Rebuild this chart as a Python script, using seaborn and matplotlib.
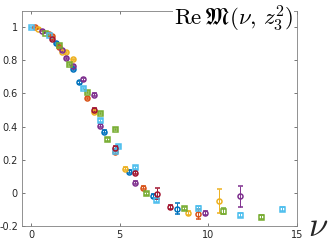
import numpy as np
import pandas as pd
import seaborn as sns
import matplotlib
matplotlib.use("Agg")
import matplotlib.pyplot as plt

# series (nu, Re M, error)
blue_nu = [1.39, 2.35, 2.73, 4.14, 5.50, 6.89, 8.25]
blue_m = [0.903, 0.745, 0.667, 0.370, 0.128, -0.018, -0.096]
blue_err = [0.005, 0.006, 0.007, 0.008, 0.008, 0.010, 0.032]

orange_nu = [0.20, 0.99, 1.19, 1.58, 3.14, 4.71, 6.29, 9.44]
orange_m = [1.000, 0.960, 0.945, 0.879, 0.573, 0.245, 0.032, -0.130]
orange_err = [0.002, 0.004, 0.005, 0.006, 0.008, 0.008, 0.010, 0.030]

yellow_nu = [0.40, 1.77, 1.96, 2.35, 3.54, 5.31, 8.85, 10.60]
yellow_m = [0.990, 0.853, 0.851, 0.805, 0.491, 0.146, -0.124, -0.050]
yellow_err = [0.003, 0.005, 0.005, 0.006, 0.008, 0.008, 0.012, 0.072]

purple_nu = [0.60, 1.77, 1.96, 2.35, 2.95, 3.54, 3.92, 5.89, 9.81, 11.79]
purple_m = [0.980, 0.860, 0.815, 0.765, 0.685, 0.593, 0.405, 0.062, -0.120, -0.020]
purple_err = [0.003, 0.005, 0.005, 0.006, 0.007, 0.008, 0.008, 0.010, 0.012, 0.064]

green_nu = [0.79, 1.58, 2.16, 3.14, 3.92, 4.31, 4.71, 6.50, 8.64, 10.81, 12.95]
green_m = [0.967, 0.893, 0.779, 0.609, 0.483, 0.324, 0.385, -0.002, -0.094, -0.112, -0.146]
green_err = [0.003, 0.005, 0.006, 0.007, 0.008, 0.008, 0.008, 0.010, 0.010, 0.018, 0.010]

lblue_nu = [0.00, 1.00, 2.95, 3.92, 4.92, 4.71, 5.89, 7.06, 9.44, 11.79, 14.14]
lblue_m = [1.000, 0.950, 0.635, 0.438, 0.282, 0.255, 0.154, -0.046, -0.090, -0.134, -0.100]
lblue_err = [0.002, 0.004, 0.007, 0.008, 0.008, 0.008, 0.009, 0.010, 0.010, 0.010, 0.012]

red_nu = [1.17, 3.54, 4.71, 5.89, 7.08, 7.83]
red_m = [0.930, 0.503, 0.273, 0.120, -0.006, -0.086]
red_err = [0.005, 0.008, 0.008, 0.009, 0.034, 0.012]

series_names = ["blue", "orange", "yellow", "purple", "green", "lightblue", "darkred"]
series_colors = ["#0072BD", "#D95319", "#EDB120", "#7E2F8E", "#77AC30", "#4DBEEE", "#A2142F"]
series_markers = ["o", "o", "o", "o", "s", "s", "o"]

frames = []
for name, nu, m, e in zip(series_names,
                          [blue_nu, orange_nu, yellow_nu, purple_nu, green_nu, lblue_nu, red_nu],
                          [blue_m, orange_m, yellow_m, purple_m, green_m, lblue_m, red_m],
                          [blue_err, orange_err, yellow_err, purple_err, green_err, lblue_err, red_err]):
    frames.append(pd.DataFrame({"nu": nu, "M": m, "err": e, "series": name}))
df = pd.concat(frames, ignore_index=True)

sns.set_style("ticks")
plt.rcParams["mathtext.fontset"] = "cm"
palette = dict(zip(series_names, sns.color_palette(series_colors)))
markers = dict(zip(series_names, series_markers))

fig = plt.figure(figsize=(3.3, 2.47), dpi=100)
ax = fig.add_axes([0.067, 0.085, 0.833, 0.872])

for name in series_names:
    d = df[df["series"] == name]
    ax.errorbar(d["nu"], d["M"], yerr=d["err"], fmt=markers[name], color=palette[name],
                mfc="none", mec=palette[name], ms=3.6, mew=1.1,
                elinewidth=0.7, capsize=1.8, capthick=0.7)

ax.set_xlim(-0.5, 15)
ax.set_ylim(-0.2, 1.1)
ax.set_xticks([0, 5, 10, 15])
ax.set_yticks([-0.2, 0, 0.2, 0.4, 0.6, 0.8, 1])
ax.set_yticklabels(["-0.2", "0", "0.2", "0.4", "0.6", "0.8", "1"])
ax.tick_params(direction="in", top=True, right=True, length=2.5, width=0.5,
               labelsize=7, colors="#404040", labelcolor="#262626", pad=3)
for s in ax.spines.values():
    s.set_color("#808080")
    s.set_linewidth(0.6)

ax.text(0.985, 0.962, r"$\mathrm{Re}\,\mathfrak{M}(\nu,\, z_3^2)$", transform=ax.transAxes,
        ha="right", va="center", fontsize=16.5, color="black",
        bbox=dict(facecolor="white", edgecolor="none", pad=0.5))

fig.text(0.963, 0.085, r"$\nu$", fontsize=25, ha="center", va="center")

fig.savefig("out.png", dpi=100)
